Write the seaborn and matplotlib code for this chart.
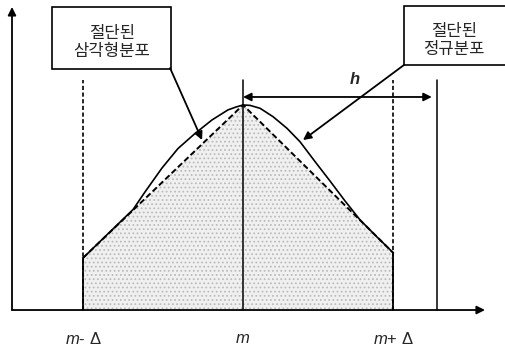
import matplotlib
matplotlib.use("Agg")
import matplotlib.pyplot as plt
import seaborn as sns
from matplotlib.patches import Rectangle

# x in units of delta measured from the mode m, y relative to the peak height
tri_x = [-1.0, 0.0, 0.94]
tri_y = [0.254, 1.0, 0.278]

norm_x = [-1.0, -0.844, -0.6875, -0.6125, -0.506, -0.406, -0.3, -0.194,
          -0.094, -0.044, 0.0, 0.044, 0.106, 0.1875, 0.275, 0.356, 0.45,
          0.544, 0.6375, 0.731, 0.825, 0.94]
norm_y = [0.254, 0.372, 0.49, 0.576, 0.693, 0.788, 0.861, 0.927,
          0.976, 0.990, 1.0, 0.998, 0.984, 0.943, 0.886, 0.821, 0.724,
          0.629, 0.532, 0.44, 0.366, 0.278]

tick_pos = [-1.0, 0.0, 0.94]
tick_labels = ["$m$- Δ", "$m$", "$m$+ Δ"]
h_end = 1.21
box_labels = ["절단된\n삼각형분포", "절단된\n정규분포"]

sns.set_style("white")
plt.rcParams["font.family"] = ["Noto Sans CJK KR", "DejaVu Sans"]
plt.rcParams["mathtext.fontset"] = "custom"
plt.rcParams["mathtext.it"] = "Liberation Sans:italic"
plt.rcParams["mathtext.rm"] = "Liberation Sans"
plt.rcParams["hatch.color"] = "#bcbcbc"
plt.rcParams["hatch.linewidth"] = 0.8

fig = plt.figure(figsize=(5.05, 3.5), dpi=100)
ax = fig.add_axes([0, 0, 1, 1])
ax.set_xlim(-1.519, 1.6375)
ax.set_ylim(-0.195, 1.512)
ax.axis("off")

# shaded truncated triangular distribution
ax.fill_between(tri_x, 0, tri_y, facecolor="#f0f0f0", edgecolor="#bcbcbc",
                hatch="....", linewidth=0)

# dashed cut-off lines and the vertical lines
top = 1.122
for xv in [tick_pos[0], tick_pos[2]]:
    ax.plot([xv, xv], [0, top], color="black", lw=1.2, linestyle=(0, (2.5, 1.5)))
ax.plot([tick_pos[0]] * 2, [0, tri_y[0]], color="black", lw=1.3)
ax.plot([tick_pos[2]] * 2, [0, tri_y[2]], color="black", lw=1.3)
ax.plot([0, 0], [0, top], color="black", lw=1.1)
ax.plot([h_end, h_end], [0, top], color="black", lw=1.1)

sns.lineplot(x=tri_x, y=tri_y, ax=ax, color="black", lw=1.4,
             linestyle=(0, (3, 1.5)), sort=False, estimator=None)
sns.lineplot(x=norm_x, y=norm_y, ax=ax, color="black", lw=1.2,
             sort=False, estimator=None)

# axes with arrows
arrow = dict(arrowstyle="-|>", color="black", lw=1.3, shrinkA=0, shrinkB=0,
             mutation_scale=12)
ax.annotate("", xy=(-1.444, 1.478), xytext=(-1.444, 0), arrowprops=arrow)
ax.annotate("", xy=(1.5125, 0), xytext=(-1.444, 0), arrowprops=arrow)

# h arrow
ax.annotate("", xy=(1.18, 1.039), xytext=(0.0, 1.039),
            arrowprops=dict(arrowstyle="<|-|>", color="black", lw=1.3,
                            shrinkA=0, shrinkB=0, mutation_scale=12))
ax.text(0.7, 1.125, "h", fontsize=12, style="italic", fontweight="bold",
        ha="center", va="center", family=["Liberation Sans"])

for xv, lab in zip(tick_pos, tick_labels):
    ax.text(xv, -0.141, lab, fontsize=12, ha="center", va="center",
            family=["Liberation Sans"])

# label boxes
ax.add_patch(Rectangle((-1.192, 1.176), 0.744, 0.300, fill=False,
                       edgecolor="black", lw=1.2))
ax.add_patch(Rectangle((1.006, 1.195), 0.75, 0.288, fill=False,
                       edgecolor="black", lw=1.2))
ax.text(-0.819, 1.305, box_labels[0], fontsize=12, ha="center", va="center",
        linespacing=1.1)
ax.text(1.319, 1.315, box_labels[1], fontsize=12, ha="center", va="center",
        linespacing=1.1)

pointer = dict(arrowstyle="-|>", color="black", lw=1.3, shrinkA=0, shrinkB=0,
               mutation_scale=12)
ax.annotate("", xy=(-0.256, 0.829), xytext=(-0.456, 1.180), arrowprops=pointer)
ax.annotate("", xy=(0.375, 0.829), xytext=(1.006, 1.195), arrowprops=pointer)

fig.savefig("out.png", dpi=100)
